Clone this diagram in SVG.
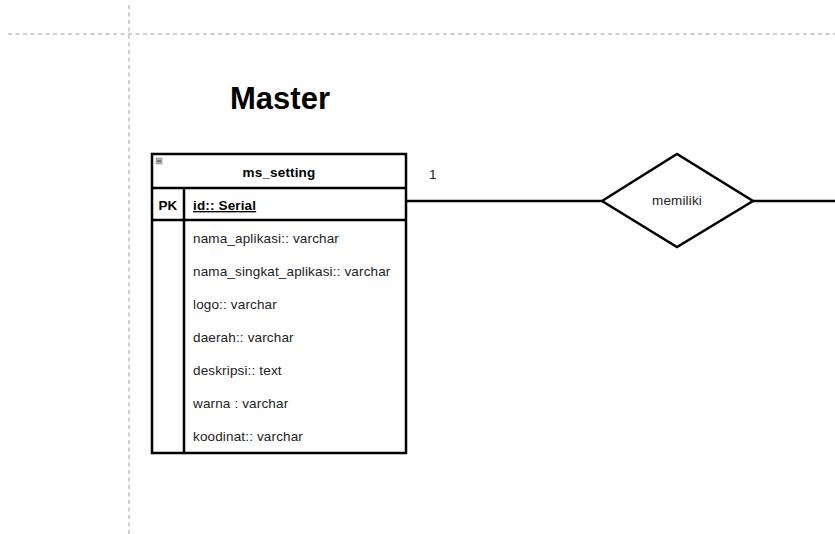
<svg xmlns="http://www.w3.org/2000/svg" width="835" height="534" viewBox="0 0 835 534">
<style>
.guide{stroke:#cfcfcf;stroke-width:2;stroke-dasharray:4 3.5;fill:none}
.b{stroke:#000;stroke-width:2.5;fill:none}
.t{font-family:"Liberation Sans",Arial,sans-serif;font-size:13.5px;letter-spacing:0.15px;fill:#222}
.bold{font-weight:bold;fill:#000}
</style>
<rect width="835" height="534" fill="#fff"/>
<g id="guides">
<line class="guide" x1="8" y1="34" x2="835" y2="34"/>
<line class="guide" x1="129" y1="5" x2="129" y2="534"/>
</g>
<g id="title">
<text x="280" y="109" text-anchor="middle" font-family="'Liberation Sans',Arial,sans-serif" font-weight="bold" font-size="31" fill="#000">Master</text>
</g>
<g id="connectors">
<line class="b" x1="406" y1="201" x2="602" y2="201"/>
<line class="b" x1="753" y1="201" x2="835" y2="201"/>
<text class="t" x="429" y="179" font-size="12">1</text>
</g>
<g id="ms_setting">
<rect x="152" y="154" width="254" height="299" fill="#fff" class="b"/>
<line class="b" x1="152" y1="188" x2="406" y2="188"/>
<line class="b" x1="152" y1="220" x2="406" y2="220"/>
<line class="b" x1="184" y1="188" x2="184" y2="453"/>
<rect x="156" y="158" width="6" height="6" fill="#b0b0b0" stroke="#909090" stroke-width="0.6"/>
<line x1="157" y1="161" x2="161" y2="161" stroke="#444" stroke-width="1"/>
<text class="t bold" x="279" y="177" text-anchor="middle">ms_setting</text>
<text class="t bold" x="168" y="210" text-anchor="middle">PK</text>
<text class="t bold" x="193" y="210" text-decoration="underline">id:: Serial</text>
<text class="t" x="193" y="243">nama_aplikasi:: varchar</text>
<text class="t" x="193" y="276">nama_singkat_aplikasi:: varchar</text>
<text class="t" x="193" y="309">logo:: varchar</text>
<text class="t" x="193" y="342">daerah:: varchar</text>
<text class="t" x="193" y="375">deskripsi:: text</text>
<text class="t" x="193" y="408">warna : varchar</text>
<text class="t" x="193" y="441">koodinat:: varchar</text>
</g>
<g id="memiliki">
<polygon points="602,201 677,154 753,201 677,247" fill="#fff" class="b"/>
<text class="t" x="677" y="205" text-anchor="middle" font-size="12">memiliki</text>
</g>
</svg>
